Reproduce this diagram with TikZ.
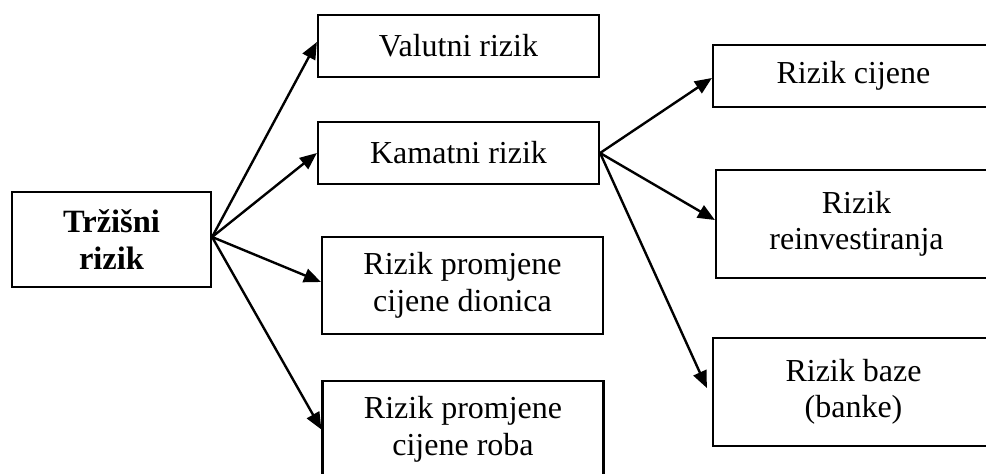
\documentclass[tikz,border=0pt]{standalone}
\usepackage{fontspec}
\setmainfont{Liberation Serif}
\usetikzlibrary{arrows.meta}
\begin{document}
\begin{tikzpicture}[x=1pt,y=-1pt,
  box/.style={draw,line width=2.2pt,inner sep=0pt,align=center,minimum width=281pt,
    font=\fontsize{32}{36.5}\selectfont},
  arr/.style={line width=2.4pt,-{Triangle[length=17pt,width=14pt]}}]
\useasboundingbox (0,0) rectangle (986,474);
\clip (0,0) rectangle (986,474);
\node[box,minimum width=199pt,minimum height=95pt,font=\fontsize{32.5}{36.5}\selectfont\bfseries] (trz) at (111.5,239.5) {Tržišni\\rizik};
\node[box,minimum height=62pt] (val) at (458.5,46) {Valutni rizik};
\node[box,minimum height=62pt] (kam) at (458.5,153) {Kamatni rizik};
\node[box,minimum height=97pt] (dio) at (462.5,285.5) {Rizik promjene\\cijene dionica};
\node[box,minimum height=97pt] (rob) at (463,429.5) {Rizik promjene\\cijene roba};
\node[box,minimum height=62pt] (cij) at (853.5,76) {Rizik cijene};
\node[box,minimum height=108pt] (rei) at (856.5,224) {Rizik\\reinvestiranja};
\node[box,minimum height=108pt] (baz) at (853.5,392) {Rizik baze\\(banke)};
\coordinate (src) at ([yshift=2.5pt]trz.east);
\draw[arr] (src) -- ([yshift=4pt]val.west);
\draw[arr] (src) -- (kam.west);
\draw[arr] (src) -- ([yshift=3.5pt]dio.west);
\draw[arr] (src) -- (rob.west);
\draw[arr] (kam.east) -- ([yshift=-2pt]cij.west);
\draw[arr] (kam.east) -- ([yshift=4pt]rei.west);
\draw[arr] (kam.east) -- ([yshift=4pt,xshift=-5pt]baz.west);
\end{tikzpicture}
\end{document}
